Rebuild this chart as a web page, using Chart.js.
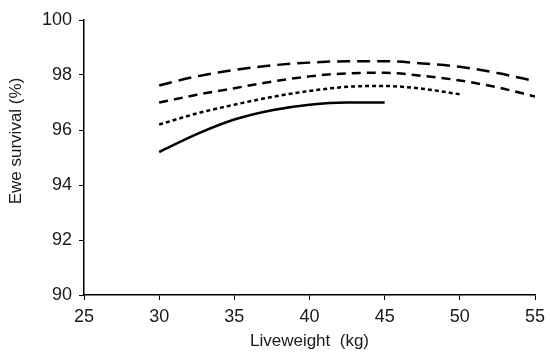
<!DOCTYPE html>
<html>
<head>
<meta charset="utf-8">
<script src="https://cdn.jsdelivr.net/npm/chart.js@4/dist/chart.umd.min.js"></script>
<style>
    html, body { margin: 0; padding: 0; background: #fff; }
    #wrap { width: 550px; height: 360px; }
</style>
</head>
<body>
<div id="wrap"><canvas id="survivalChart"></canvas></div>
<script>
// Values
const weights = [30, 32.5, 35, 37.5, 40, 42.5, 45, 47.5, 50, 52.5, 55];
const solidLine = [95.2, 95.85, 96.38, 96.72, 96.92, 97.0, 97.0];
const shortDash = [96.2, 96.6, 96.92, 97.2, 97.42, 97.57, 97.6, 97.5, 97.3];
const mediumDash = [97.0, 97.28, 97.52, 97.76, 97.95, 98.06, 98.08, 97.97, 97.8, 97.55, 97.22];
const longDash = [97.62, 97.95, 98.18, 98.35, 98.45, 98.5, 98.5, 98.42, 98.3, 98.07, 97.78];

const xTicks = [25, 30, 35, 40, 45, 50, 55];
const yTicks = [90, 92, 94, 96, 98, 100];
const yTitle = 'Ewe survival (%)';

const toPoints = vals => vals.map((v, i) => ({ x: weights[i], y: v }));

const lineStyle = dash => ({
    borderColor: '#000',
    borderWidth: 2.5,
    borderDash: dash,
    pointRadius: 0,
    fill: false,
    cubicInterpolationMode: 'monotone',
});

const family = 'Arial, "Liberation Sans", sans-serif';
const tickFont = { family, size: 18 };
const titleFont = { family, size: 17 };

// y title sits a bit above the axis middle in the original, so draw it by hand
const yTitlePlugin = {
    id: 'yTitle',
    afterDraw(chart) {
        const { ctx, chartArea } = chart;
        ctx.save();
        ctx.translate(16, chartArea.top + (chartArea.bottom - chartArea.top) * 0.44);
        ctx.rotate(-Math.PI / 2);
        ctx.font = `${titleFont.size}px ${family}`;
        ctx.fillStyle = '#1a1a1a';
        ctx.textAlign = 'center';
        ctx.textBaseline = 'middle';
        ctx.fillText(yTitle, 0, 0);
        ctx.restore();
    }
};

new Chart(document.getElementById('survivalChart'), {
    type: 'line',
    data: {
        datasets: [
            { label: 'a', data: toPoints(longDash), ...lineStyle([13, 7]) },
            { label: 'b', data: toPoints(mediumDash), ...lineStyle([9, 6]) },
            { label: 'c', data: toPoints(shortDash), ...lineStyle([4, 3]) },
            { label: 'd', data: toPoints(solidLine), ...lineStyle([]) },
        ]
    },
    plugins: [yTitlePlugin],
    options: {
        responsive: true,
        maintainAspectRatio: false,
        animation: false,
        layout: { padding: { top: 20, right: 15, left: 0, bottom: 0 } },
        plugins: { legend: { display: false }, tooltip: { enabled: false } },
        scales: {
            x: {
                type: 'linear',
                min: 25,
                max: 55,
                afterBuildTicks: s => { s.ticks = xTicks.map(v => ({ value: v })); },
                afterFit: s => { s.height = 65; s.paddingRight = 0; s.paddingLeft = 0; },
                grid: { drawOnChartArea: false, drawTicks: true, tickLength: 5, tickColor: '#000' },
                border: { color: '#000', width: 1.5 },
                ticks: { color: '#1a1a1a', font: tickFont, padding: 6 },
                title: { display: true, text: 'Liveweight  (kg)', color: '#1a1a1a', font: titleFont, padding: { top: 0, bottom: 8 } }
            },
            y: {
                min: 90,
                max: 100,
                afterBuildTicks: s => { s.ticks = yTicks.map(v => ({ value: v })); },
                afterFit: s => { s.width = 84; s.paddingTop = 0; s.paddingBottom = 0; },
                grid: { drawOnChartArea: false, drawTicks: true, tickLength: 5, tickColor: '#000' },
                border: { color: '#000', width: 1.5 },
                ticks: { color: '#1a1a1a', font: tickFont, padding: 7 },
                title: { display: false }
            }
        }
    }
});
</script>
</body>
</html>
